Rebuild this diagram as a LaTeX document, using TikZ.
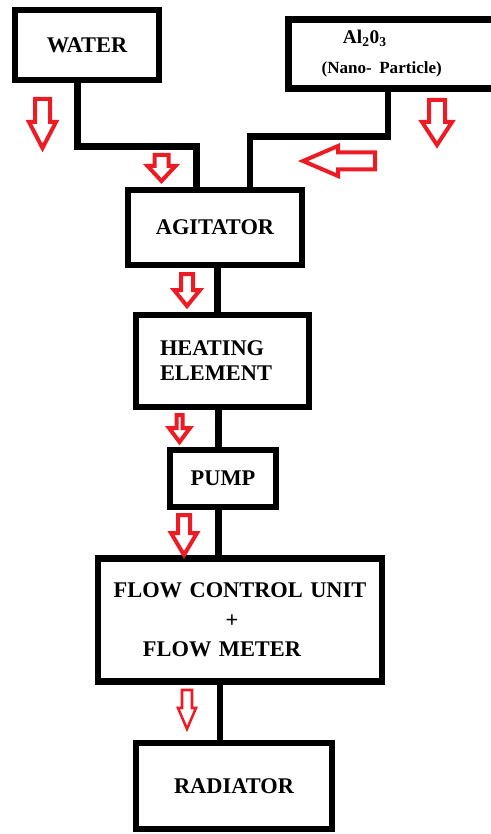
\documentclass[tikz,border=0pt]{standalone}
\usepackage{fontspec}
\setmainfont{Liberation Serif}
\usepackage{tikz}
\usetikzlibrary{calc,positioning}
\definecolor{rouge}{RGB}{237,28,36}
% fleche creuse vers le bas : x, haut, demi-tige, demi-tete, debut tete, pointe
\newcommand{\flechebas}[7][]{%
\draw[fleche,#1] (#2-#4,#3) -- (#2+#4,#3) -- (#2+#4,#6) -- (#2+#5,#6) -- (#2,#7)
  -- (#2-#5,#6) -- (#2-#4,#6) -- cycle;}

\begin{document}
\begin{tikzpicture}[x=0.75pt,y=-0.75pt]
%unite : 1 pixel de l'image
\tikzset{boite/.style={draw,line width=4.9pt,line join=miter,inner sep=0pt,
  font=\bfseries\fontsize{16.8}{20}\selectfont},
  tuyau/.style={line width=4.9pt},
  fleche/.style={draw=rouge,line width=3pt,fill=white,line join=miter}}
\useasboundingbox (0,0) rectangle (491,834);
\clip (0,0) rectangle (491,834);
% les boites
\node[boite,minimum width=108pt,minimum height=52.5pt] (eau) at (87,45) {WATER};
\node[boite,anchor=north west,text width=161.25pt,minimum height=51.75pt,align=left] (alumine) at (285,16)
  {\fontsize{14.5}{19}\selectfont\hspace*{41pt}Al\textsubscript{2}0\textsubscript{3}\\[2pt]
   \fontsize{12.8}{16}\selectfont\hspace*{25pt}(Nano- Particle)};
\node[boite,minimum width=130.5pt,minimum height=56.25pt] (agitateur) at (215,227.5) {AGITATOR};
\node[boite,text width=129.75pt,minimum height=69pt,align=left,font=\bfseries\fontsize{16.8}{18.8}\selectfont]
  (chauffage) at (222.5,361) {\hspace*{18pt}HEATING\\\hspace*{18pt}ELEMENT};
\node[boite,minimum width=79.5pt,minimum height=42.75pt] (pompe) at (223,478.5) {PUMP};
\node[boite,text width=213pt,minimum height=92.25pt,align=center,font=\bfseries\fontsize{16.8}{22}\selectfont]
  (debit) at (240,620) {FLOW CONTROL UNIT\\+\kern12pt\\FLOW METER\kern27pt};
\node[boite,minimum width=147pt,minimum height=64.5pt] (radiateur) at (234,786) {RADIATOR};
% les tuyaux
\coordinate (coudeEau) at (77.5,146.5);
\coordinate (entreeEau) at (196.5,146.5);
\coordinate (coudeAl) at (388,136.5);
\coordinate (entreeAl) at (250,136.5);
\draw[tuyau] (eau.south -| coudeEau) -- (coudeEau) -- (entreeEau) -- (agitateur.north -| entreeEau);
\draw[tuyau] (alumine.south -| coudeAl) -- (coudeAl) -- (entreeAl) -- (agitateur.north -| entreeAl);
\foreach \a/\b/\x in {agitateur/chauffage/217.5,chauffage/pompe/218.5,pompe/debit/218.5,debit/radiateur/220}
  \draw[tuyau] (\a.south -| \x,0) -- (\b.north -| \x,0);
% les fleches rouges
\flechebas{42.5}{99}{7.5}{13.5}{122}{148}
\flechebas{161.5}{155}{7}{14}{166}{181}
\flechebas{437}{100}{8}{15}{122}{145}
\draw[fleche] (375,152.5) -- (375,169.5) -- (338,169.5) -- (338,176) -- (303,161)
  -- (338,146) -- (338,152.5) -- cycle;
\flechebas{187}{274}{6}{13}{290}{306}
\flechebas{179.5}{415}{3}{10.5}{428}{442}
\flechebas{184}{515}{6}{13}{533}{555}
\flechebas[line width=1.9pt]{187}{690}{5}{9}{708}{729}
\end{tikzpicture}
\end{document}
